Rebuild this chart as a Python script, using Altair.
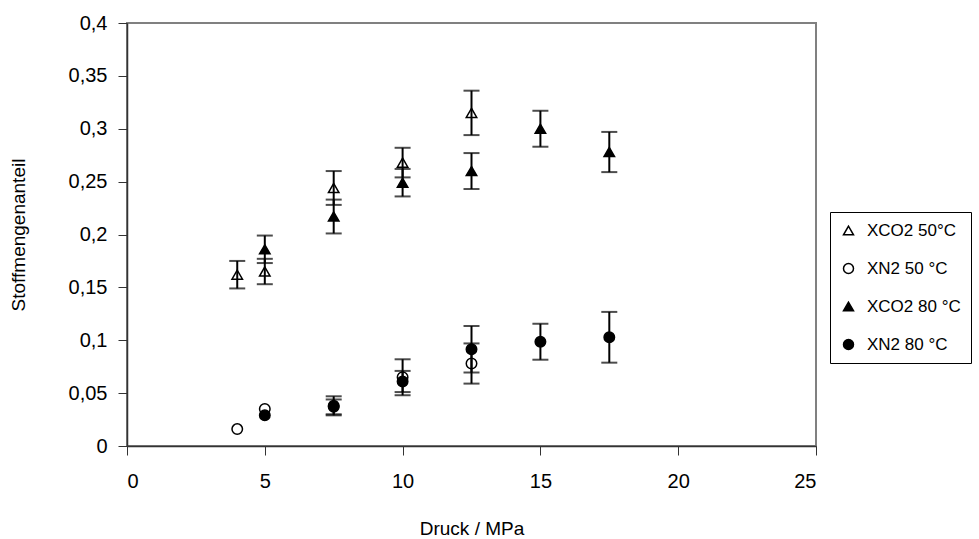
import altair as alt
import pandas as pd

# ---- data ----
series_names = ["XCO2 50°C", "XN2 50 °C", "XCO2 80 °C", "XN2 80 °C"]

co2_50_x = [4, 5, 7.5, 10, 12.5]
co2_50_y = [0.162, 0.165, 0.244, 0.268, 0.315]
co2_50_e = [0.013, 0.012, 0.016, 0.014, 0.021]

n2_50_x = [4, 5, 7.5, 10, 12.5]
n2_50_y = [0.016, 0.035, 0.037, 0.065, 0.078]
n2_50_e = [None, None, 0.007, 0.017, 0.019]

co2_80_x = [5, 7.5, 10, 12.5, 15, 17.5]
co2_80_y = [0.186, 0.217, 0.249, 0.260, 0.300, 0.278]
co2_80_e = [0.013, 0.016, 0.013, 0.017, 0.017, 0.019]

n2_80_x = [5, 7.5, 10, 12.5, 15, 17.5]
n2_80_y = [0.029, 0.038, 0.061, 0.0915, 0.0986, 0.1028]
n2_80_e = [None, 0.009, 0.010, 0.022, 0.017, 0.024]

x_ticks = [0, 5, 10, 15, 20, 25]
y_ticks = [0, 0.05, 0.1, 0.15, 0.2, 0.25, 0.3, 0.35, 0.4]

rows = []
for name, xs, ys, es in [
    (series_names[0], co2_50_x, co2_50_y, co2_50_e),
    (series_names[1], n2_50_x, n2_50_y, n2_50_e),
    (series_names[2], co2_80_x, co2_80_y, co2_80_e),
    (series_names[3], n2_80_x, n2_80_y, n2_80_e),
]:
    for xv, yv, ev in zip(xs, ys, es):
        rows.append({"series": name, "x": xv, "y": yv, "err": ev})
df = pd.DataFrame(rows)
df["order"] = df["series"].map({n: i for i, n in enumerate(series_names)})

FONT = "Liberation Sans"

xenc = alt.X("x:Q", scale=alt.Scale(domain=[0, 25], nice=False),
             axis=alt.Axis(values=x_ticks, title="Druck / MPa", grid=False,
                           labelExpr="replace(format(datum.value, '~g'), '.', ',')"))
yenc = alt.Y("y:Q", scale=alt.Scale(domain=[0, 0.4], nice=False),
             axis=alt.Axis(values=y_ticks, title="Stoffmengenanteil", grid=False,
                           labelExpr="replace(format(datum.value, '.2~f'), '.', ',')"))

base = alt.Chart(df)

points = base.mark_point(filled=True, strokeWidth=1.5, size=110, opacity=1).encode(
    x=xenc,
    y=yenc,
    shape=alt.Shape("series:N",
                    scale=alt.Scale(domain=series_names,
                                    range=["triangle-up", "circle", "triangle-up", "circle"]),
                    legend=alt.Legend(title=None)),
    fill=alt.Fill("series:N",
                  scale=alt.Scale(domain=series_names,
                                  range=["white", "white", "black", "black"]),
                  legend=alt.Legend(title=None)),
    stroke=alt.Stroke("series:N",
                      scale=alt.Scale(domain=series_names,
                                      range=["black", "black", "black", "black"]),
                      legend=alt.Legend(title=None)),
    order=alt.Order("order:Q"),
)

err = base.transform_filter("isValid(datum.err)").transform_calculate(
    lo="datum.y - datum.err", hi="datum.y + datum.err")

rules = err.mark_rule(color="black", strokeWidth=2).encode(
    x="x:Q", y="lo:Q", y2="hi:Q")
cap_lo = err.mark_tick(color="black", thickness=2, size=16, orient="horizontal").encode(
    x="x:Q", y="lo:Q")
cap_hi = err.mark_tick(color="black", thickness=2, size=16, orient="horizontal").encode(
    x="x:Q", y="hi:Q")

chart = alt.layer(points, rules, cap_lo, cap_hi).properties(
    width=689, height=423,
    autosize=alt.AutoSizeParams(type="none"),
    padding={"left": 127, "top": 23, "right": 163, "bottom": 93},
    background="white",
).configure_view(
    stroke="#808080", strokeWidth=2
).configure_axis(
    domainColor="#333333", domainWidth=1.5,
    tickColor="#333333", tickWidth=1, tickSize=9,
    labelFont=FONT, labelFontSize=20, labelColor="black",
    titleFont=FONT, titleFontSize=19, titleFontWeight="normal", titleColor="black",
).configure_axisX(
    labelPadding=16, titlePadding=28,
).configure_axisY(
    labelPadding=11, titlePadding=40,
).configure_legend(
    orient="none", legendX=703, legendY=189,
    strokeColor="black", padding=10,
    labelFont=FONT, labelFontSize=17, labelColor="black",
    symbolSize=100, symbolStrokeColor="black", symbolStrokeWidth=1.5,
    rowPadding=20, labelOffset=10,
)

chart.save("out.html", embed_options={"renderer": "svg", "actions": False})
